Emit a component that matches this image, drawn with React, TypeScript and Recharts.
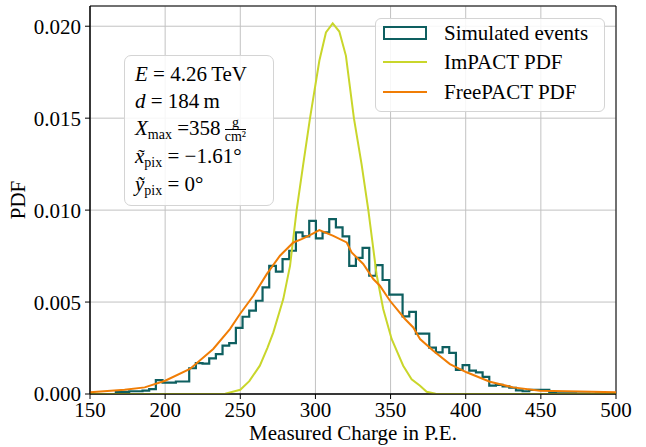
import { ComposedChart, Line, XAxis, YAxis, CartesianGrid, ReferenceArea, Legend } from 'recharts'

// histogram of simulated events (bin start, width, densities)
const HIST_START = 167.2
const HIST_WIDTH = 4.437
const histValues = [
  0.00012, 0.00012, 0.00015, 0.00015, 0.00018, 0.00027, 0.00076, 0.00062, 0.00062, 0.00068,
  0.00068, 0.0014, 0.00168, 0.00165, 0.00194, 0.00217, 0.00263, 0.00277, 0.0036, 0.0042,
  0.00453, 0.00507, 0.0058, 0.00697, 0.00665, 0.00734, 0.00779, 0.00879, 0.00857, 0.00942,
  0.00846, 0.00879, 0.00951, 0.00906, 0.00857, 0.00697, 0.0074, 0.00795, 0.00643, 0.00701,
  0.0062, 0.0054, 0.0054, 0.00422, 0.00447, 0.00328, 0.00328, 0.00252, 0.00226, 0.00255,
  0.00224, 0.00131, 0.00157, 0.00127, 0.00118, 0.00093, 0.00046, 0.0005, 0.00041, 0.00034,
  0.0002, 0.00015, 0.00022, 0.00022, 0.00022, 0.00005, 0.00004, 0.00003, 0.00003, 0.00002,
  0.00002, 0.00001, 0.00002, 0.00001, 0.00001,
]

const impactX = [150, 230, 240, 250, 256, 263, 268, 272, 278.6, 283.1, 287.5, 291.9, 296.4, 302.6, 307, 311.5, 315.9, 320.3, 325.6, 330.7, 335.2, 340.7, 345.1, 350.7, 358.4, 364, 369.6, 374, 380, 400, 500]
const impactY = [0, 0, 0.00002, 0.00023, 0.0007, 0.00154, 0.0025, 0.00335, 0.00516, 0.00697, 0.01, 0.0125, 0.015, 0.01812, 0.01966, 0.02015, 0.01971, 0.01839, 0.015, 0.0125, 0.01, 0.0065, 0.00462, 0.00299, 0.00154, 0.0008, 0.00045, 0.00012, 0.00002, 0, 0]

const freeX = [150, 173, 186.4, 200, 216.5, 232, 243.1, 249.8, 258.7, 267.6, 276.4, 285.3, 290.8, 296.4, 302.6, 311.9, 320.8, 324.1, 331.8, 338.5, 342.9, 349.6, 359.6, 365.1, 369.6, 378.4, 389.5, 400.6, 416.1, 431.6, 449.4, 476, 500]
const freeY = [0.0001, 0.00023, 0.00036, 0.00072, 0.00136, 0.00245, 0.00353, 0.00435, 0.00534, 0.00652, 0.00752, 0.00824, 0.00842, 0.00864, 0.00891, 0.0086, 0.00824, 0.0077, 0.00707, 0.00625, 0.00589, 0.00507, 0.00408, 0.00362, 0.00299, 0.00235, 0.00163, 0.00118, 0.00067, 0.00036, 0.00018, 0.00013, 0.00009]

const xTicks = [150, 200, 250, 300, 350, 400, 450, 500]
const yTicks = [0, 0.005, 0.01, 0.015, 0.02]
const Y_MAX = 0.0211

const HIST_COLOR = '#0e5f60'
const IMPACT_COLOR = '#c9d62b'
const FREE_COLOR = '#f07d05'
const FONT = '"Liberation Serif", serif'

const histData = [
  { x: HIST_START, y: 0 },
  ...histValues.map((v, i) => ({ x: HIST_START + i * HIST_WIDTH, y: v })),
  { x: HIST_START + histValues.length * HIST_WIDTH, y: histValues[histValues.length - 1] },
  { x: HIST_START + histValues.length * HIST_WIDTH, y: 0 },
]
const impactData = impactX.map((x, i) => ({ x, y: impactY[i] }))
const freeData = freeX.map((x, i) => ({ x, y: freeY[i] }))

function LegendBox() {
  const row = (top: number, text: string) => (
    <div style={{ position: 'absolute', left: 68, top: top - 12, lineHeight: '24px', fontSize: 21, whiteSpace: 'nowrap' }}>
      {text}
    </div>
  )
  return (
    <div
      style={{
        position: 'relative', width: 230, height: 94, boxSizing: 'border-box',
        border: '1.5px solid #d4d4d4', borderRadius: 6, background: 'rgba(255,255,255,0.85)',
        fontFamily: FONT, color: '#000',
      }}
    >
      <div style={{ position: 'absolute', left: 7, top: 7, width: 44, height: 14, boxSizing: 'border-box', border: `2px solid ${HIST_COLOR}` }} />
      {row(14, 'Simulated events')}
      <div style={{ position: 'absolute', left: 7, top: 42, width: 44, height: 2, background: IMPACT_COLOR }} />
      {row(43, 'ImPACT PDF')}
      <div style={{ position: 'absolute', left: 7, top: 72, width: 44, height: 2, background: FREE_COLOR }} />
      {row(73, 'FreePACT PDF')}
    </div>
  )
}

const sub = { fontSize: 14, verticalAlign: '-4px', fontStyle: 'normal' as const }

function InfoBox() {
  const line = (top: number, content: any) => (
    <div style={{ position: 'absolute', left: 10, top: top - 13, lineHeight: '26px', whiteSpace: 'nowrap' }}>{content}</div>
  )
  return (
    <div
      style={{
        position: 'absolute', left: 124, top: 55, width: 150, height: 151, boxSizing: 'border-box',
        border: '1.5px solid #d4d4d4', borderRadius: 7, background: 'rgba(255,255,255,0.85)',
        fontFamily: FONT, fontSize: 21, color: '#000',
      }}
    >
      {line(18, <><i>E</i> = 4.26&thinsp;TeV</>)}
      {line(45, <><i>d</i> = 184&thinsp;m</>)}
      {line(72, (
        <>
          <i>X</i><span style={sub}>max</span> =358&thinsp;
          <span style={{ display: 'inline-flex', flexDirection: 'column', alignItems: 'center', verticalAlign: 'middle', fontSize: 14, lineHeight: '12px' }}>
            <span>g</span>
            <span style={{ borderTop: '1px solid #000', paddingTop: 1 }}>cm²</span>
          </span>
        </>
      ))}
      {line(100, <><i>x̃</i><span style={sub}>pix</span> = −1.61°</>)}
      {line(128, <><i>ỹ</i><span style={sub}>pix</span> = 0°</>)}
    </div>
  )
}

export default function App() {
  const tickStyle = { fill: '#000', fontSize: 21, fontFamily: FONT }
  return (
    <div style={{ position: 'fixed', left: 0, top: 0, width: 646, height: 447, background: '#fff', fontFamily: FONT }}>
      <ComposedChart width={646} height={447} margin={{ top: 6, right: 30, bottom: 0, left: 0 }}>
        <CartesianGrid stroke="#c2c2c2" strokeWidth={1} />
        <XAxis
          type="number"
          dataKey="x"
          domain={[150, 500]}
          ticks={xTicks}
          interval={0}
          allowDataOverflow
          height={53}
          tick={tickStyle}
          tickSize={5}
          tickMargin={3}
          axisLine={{ stroke: '#000' }}
          tickLine={{ stroke: '#000' }}
        />
        <YAxis
          type="number"
          dataKey="y"
          domain={[0, Y_MAX]}
          ticks={yTicks}
          interval={0}
          allowDataOverflow
          width={90}
          tick={tickStyle}
          tickSize={5}
          tickMargin={4}
          tickFormatter={(v: number) => v.toFixed(3)}
          axisLine={{ stroke: '#000' }}
          tickLine={{ stroke: '#000' }}
        />
        <Line data={histData} dataKey="y" type="stepAfter" stroke={HIST_COLOR} strokeWidth={2.2} dot={false} isAnimationActive={false} />
        <Line data={impactData} dataKey="y" type="linear" stroke={IMPACT_COLOR} strokeWidth={2} dot={false} isAnimationActive={false} />
        <Line data={freeData} dataKey="y" type="linear" stroke={FREE_COLOR} strokeWidth={2} dot={false} isAnimationActive={false} />
        <ReferenceArea x1={150} x2={500} y1={0} y2={Y_MAX} fill="none" stroke="#000" strokeWidth={1} ifOverflow="visible" />
        <Legend
          layout="vertical"
          align="center"
          verticalAlign="middle"
          wrapperStyle={{ left: 375, top: 18, width: 230, height: 94 }}
          content={() => <LegendBox />}
        />
      </ComposedChart>
      <InfoBox />
      <div style={{ position: 'absolute', left: 90, top: 423, width: 526, textAlign: 'center', lineHeight: '20px', fontSize: 21 }}>
        Measured Charge in P.E.
      </div>
      <div style={{ position: 'absolute', left: 18, top: 200, transform: 'translate(-50%, -50%) rotate(-90deg)', fontSize: 21, lineHeight: '24px' }}>
        PDF
      </div>
    </div>
  )
}
